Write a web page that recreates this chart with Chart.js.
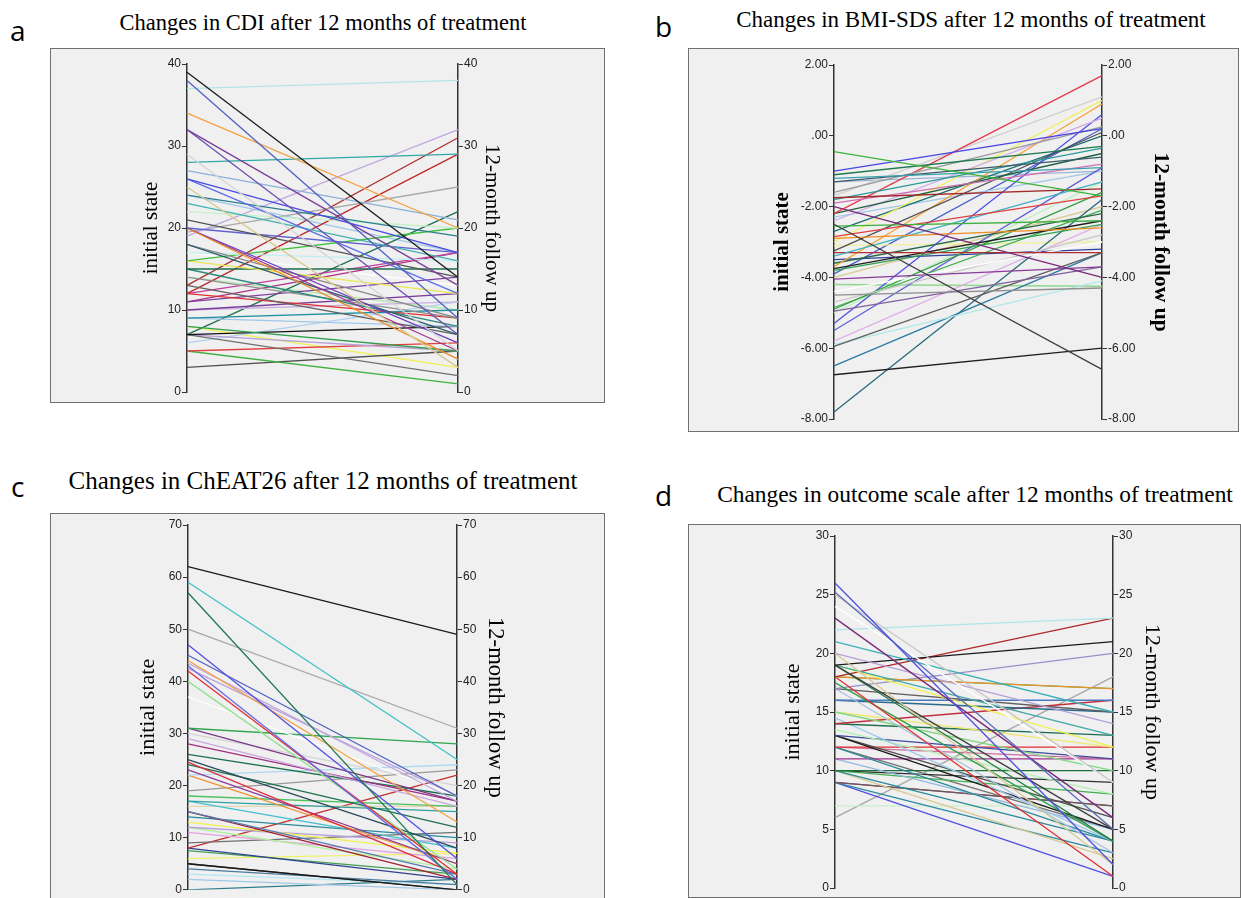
<!DOCTYPE html>
<html>
<head>
<meta charset="utf-8">
<script src="https://cdn.jsdelivr.net/npm/chart.js@4.4.0/dist/chart.umd.min.js"></script>
<style>
  body { margin: 0; width: 1241px; height: 898px; overflow: hidden; background: #fff; position: relative; }
  .letter { position: absolute; font-family: "Open Sans", sans-serif; font-size: 28px; color: #000; line-height: 1; }
  .title { position: absolute; font-family: "Liberation Serif", serif; color: #000; white-space: nowrap; transform: translateX(-50%); line-height: 1; }
  .frame { position: absolute; background: #f0f0f0; border: 1px solid #707070; box-sizing: border-box; }
  .frame canvas { position: absolute; left: 0; top: 0; }
</style>
</head>
<body>
<div class="letter" style="left:10px;top:16px">a</div>
<div class="letter" style="left:655px;top:12px">b</div>
<div class="letter" style="left:11px;top:472px">c</div>
<div class="letter" style="left:655px;top:481px">d</div>

<div class="title" style="left:323px;top:12px;font-size:22.5px">Changes in CDI after 12 months of treatment</div>
<div class="title" style="left:971px;top:8px;font-size:23px">Changes in BMI-SDS after 12 months of treatment</div>
<div class="title" style="left:323px;top:468px;font-size:25px">Changes in ChEAT26 after 12 months of treatment</div>
<div class="title" style="left:975px;top:483px;font-size:23.4px">Changes in outcome scale after 12 months of treatment</div>

<div class="frame" style="left:50px;top:48px;width:555px;height:355px"><canvas id="cdi" width="553" height="353"></canvas></div>
<div class="frame" style="left:688px;top:48px;width:551px;height:384px"><canvas id="bmi" width="549" height="382"></canvas></div>
<div class="frame" style="left:50px;top:513px;width:555px;height:400px"><canvas id="eat" width="553" height="384"></canvas></div>
<div class="frame" style="left:688px;top:524px;width:553px;height:374px"><canvas id="outcome" width="551" height="372"></canvas></div>

<script>
const timepoints = ["initial state", "12-month follow up"];

// a: CDI
const cdiInitial = [39, 38, 37, 34, 32, 32, 29, 28, 27, 26, 26, 25, 24, 23, 22, 21, 20, 20, 20, 20,
  19, 19.5, 18, 18, 17, 16, 16, 15, 15, 14, 13, 13, 12, 12, 12, 11, 11, 10, 10, 9,
  9, 8, 7, 7, 7, 7, 6, 5, 5, 3, 8, 17, 14, 24];
const cdiFollow = [14, 9, 38, 20, 13, 7, 5, 29, 21, 17, 12, 3, 19, 16, 20, 14, 17, 4, 6, 5,
  32, 25, 7, 9, 16, 20, 12, 15, 8, 9, 31, 7, 9, 29, 17, 14, 17, 12, 11, 10,
  8, 5, 8, 22, 2, 5, 11, 6, 1, 5, 3, 13, 10, 17];
const cdiColors = ["#1a1a1a", "#5060c0", "#b4e4e8", "#f5a040", "#7b3f9a", "#6a50b0", "#d4d4d4", "#30a8a8", "#8cb0d8", "#4a4ae0",
  "#5a6ee8", "#d8c890", "#2a7f8f", "#40b0b0", "#c8f0c8", "#555555", "#6060d0", "#f08c20", "#7040c0", "#a03090",
  "#c0a8e0", "#aaaaaa", "#2f5f6f", "#888888", "#c0eef0", "#40c040", "#e8e850", "#1e6e4e", "#2a8a7a", "#909090",
  "#b03030", "#606060", "#e03030", "#c02828", "#c040a0", "#8040a0", "#b03080", "#7a3a9a", "#c8b0e0", "#2090a0",
  "#a0c8e8", "#30a050", "#111111", "#207050", "#707070", "#b8a0d8", "#b0d0f0", "#e04040", "#40b040", "#505050",
  "#f0f050", "#ffffff", "#b0e8b0", "#9ec9ec"];

// b: BMI-SDS
const bmiInitial = [-0.45, -1.0, -1.1, -1.2, -1.3, -1.6, -1.75, -1.8, -1.9, -2.2, -2.0, -2.2, -2.4, -2.5, -2.55, -1.7, -2.9, -2.85, -3.0, -3.25,
  -3.4, -3.3, -3.7, -3.6, -3.8, -4.05, -3.75, -4.4, -4.5, -4.7, -4.9, -4.85, -4.95, -5.3, -5.5, -5.8, -5.95, -5.9, -6.5, -6.75,
  -7.8, -3.1, -2.7, -4.2, -3.5, -2.3, -4.0, -3.9, -5.0, -1.3];
const bmiFollow = [-1.7, 0.2, -0.3, -0.9, -0.6, 0.25, -1.5, -0.35, -0.8, 1.7, -4.0, -0.5, 0.5, -6.6, -2.4, 1.1, -2.6, -1.7, 1.0, 0.1,
  -1.3, -3.3, 0.9, -2.2, -2.5, -3.7, -2.4, -3.0, -4.3, -2.8, -1.6, -2.1, -3.7, 0.6, -0.9, -2.5, -3.3, -4.1, -3.3, -6.0,
  -1.8, -3.0, 0.0, -4.25, -3.2, -1.0, -2.0, 0.2, -1.3, -1.0];
const bmiColors = ["#3cb43c", "#4646e6", "#1e7a50", "#3aa0b0", "#3a5a6a", "#999999", "#a02828", "#2a9a9a", "#d070b0", "#e03c50",
  "#7a2a7a", "#206040", "#d0a8e8", "#404040", "#40b040", "#d0d0d0", "#f08c20", "#e04040", "#f0f060", "#505050",
  "#40b0c0", "#b03030", "#f5a030", "#2a6a4a", "#2ea050", "#8a3a9a", "#202020", "#ffffff", "#909090", "#c8c8c8",
  "#30a040", "#40b050", "#8060a0", "#5050e0", "#6060d8", "#e0b0e8", "#606060", "#b0e8e8", "#2a7aa0", "#202020",
  "#2a6a7a", "#f0f0a0", "#1f6f6f", "#90d890", "#3040a0", "#a0c8e8", "#d8c890", "#4a5ec9", "#c0f0c0", "#9ab4d8"];

// c: ChEAT26
const eatInitial = [62, 59, 57, 50, 47, 45, 44, 43.5, 43, 42.5, 42, 40, 37, 31, 31, 30, 29, 28, 26, 25,
  24.5, 24, 23, 22, 22, 19, 18, 17, 17, 16, 15, 15, 14, 13, 12, 12, 11, 9, 8, 8,
  7.5, 6, 5, 5, 4, 3, 2, 0];
const eatFollow = [49, 25, 1, 31, 6, 18, 13, 17, 2, 18, 3, 4, 18, 28, 17, 20, 16, 17, 18, 8,
  3, 12, 5, 24, 5, 23, 16, 15, 8, 16, 3, 2, 10, 7, 9, 4, 6, 11, 22, 2,
  3, 7, 0, 0, 1, 1, 0, 2];
const eatColors = ["#1a1a1a", "#40c0c8", "#207a50", "#a8a8a8", "#5050e0", "#5060c0", "#f5a040", "#c0a8e0", "#6a6ae8", "#b8a0d8",
  "#e03030", "#90e090", "#ffffff", "#30a850", "#7a3a8a", "#d4d4d4", "#c8a8e0", "#a03080", "#1e6e4e", "#2a4a5a",
  "#e03040", "#207050", "#8a3a9a", "#b0d8f0", "#f09030", "#999999", "#50c060", "#30a0a0", "#40c0d0", "#e0d8b0",
  "#5a7ab0", "#a02030", "#2a8a9a", "#f0f050", "#b8a0d8", "#b0f0a0", "#e0a0e0", "#707070", "#c03030", "#304090",
  "#40a050", "#f0f070", "#1a1a1a", "#505050", "#4a7aa0", "#b0e8f0", "#a0c8e8", "#2a7a8a"];

// d: outcome scale
const outInitial = [26, 25.2, 25, 24, 23, 22, 21, 20, 20, 19, 19, 19, 19, 19, 18, 18, 18, 18, 17.5, 17,
  17, 17, 16, 16, 15, 15, 14, 14, 14.5, 13.5, 13, 13, 13, 12, 12, 12, 11, 11, 10, 10,
  10, 10, 9, 9, 9, 9, 7, 6, 10, 12];
const outFollow = [2, 5, 9, 9, 6, 23, 15, 14, 2, 21, 5, 13, 12, 4, 23, 17, 17, 1, 4, 20,
  15, 3, 16, 15, 10, 12, 16, 13, 4, 8, 11, 5, 6, 12, 11, 4, 11, 5, 10, 8,
  4, 2.5, 7, 7, 3, 1, 7, 18, 9, 5];
const outColors = ["#5050e0", "#5a6ab8", "#c8c8c8", "#ffffff", "#7a2a7a", "#b0e4e8", "#40b0b8", "#b8a0d8", "#d8c890", "#1a1a1a",
  "#404040", "#40a8a8", "#f0f050", "#207a40", "#b02828", "#f09030", "#40b040", "#e03030", "#30a050", "#9a90c8",
  "#606060", "#a8c0e0", "#4a7ac0", "#2a6a8a", "#80d880", "#f0e870", "#c03040", "#1e6e4e", "#9ec9ec", "#b0f0b0",
  "#3a4aa0", "#1a1a1a", "#505050", "#e03030", "#d070a0", "#2a8a9a", "#a03090", "#90b8e0", "#1e6e3e", "#40b050",
  "#2a8a9a", "#d8c890", "#606060", "#c03060", "#2a8aa0", "#5050e0", "#c8f0c8", "#a8a8a8", "#303030", "#707070"];

function makePanel(id, initial, follow, colors, cfg) {
  const tickFont = { family: "Liberation Sans", size: 12 };
  const axis = (pos, width, titleText, titleSize, titlePad) => ({
    position: pos,
    display: true,
    min: cfg.min,
    max: cfg.max,
    ticks: { stepSize: cfg.step, color: "#222", font: tickFont, padding: 1, callback: cfg.fmt },
    grid: { drawOnChartArea: false, drawTicks: true, tickLength: 5, color: "#333", lineWidth: 1 },
    border: { display: true, color: "#333", width: 1.5 },
    title: {
      display: true, text: titleText, color: "#000",
      font: { family: "Liberation Serif", size: titleSize, weight: cfg.titleWeight || "normal" },
      padding: { top: titlePad, bottom: 0 }
    },
    afterFit: (scale) => { scale.width = width; }
  });
  new Chart(document.getElementById(id), {
    type: "line",
    data: {
      labels: timepoints,
      datasets: initial.map((v, i) => ({
        data: [v, follow[i]],
        borderColor: colors[i % colors.length],
        borderWidth: 1.3,
        pointRadius: 0,
        fill: false,
        tension: 0
      }))
    },
    options: {
      responsive: false,
      animation: false,
      layout: { padding: { top: cfg.top, bottom: cfg.bottom, left: 0, right: 0 } },
      plugins: { legend: { display: false }, tooltip: { enabled: false } },
      scales: {
        x: { display: false, offset: false },
        y: axis("left", cfg.leftW, timepoints[0], cfg.leftSize, cfg.leftPad),
        y2: axis("right", cfg.rightW, timepoints[1], cfg.rightSize, cfg.rightPad)
      }
    }
  });
}

const intFmt = (v) => String(v);
const decFmt = (v) => (v === 0 ? ".00" : v.toFixed(2));

makePanel("cdi", cdiInitial, cdiFollow, cdiColors,
  { min: 0, max: 40, step: 10, fmt: intFmt, top: 15, bottom: 10, leftW: 136, rightW: 146,
    leftSize: 21, rightSize: 21, leftPad: 88, rightPad: 100 });
makePanel("bmi", bmiInitial, bmiFollow, bmiColors,
  { min: -8, max: 2, step: 2, fmt: decFmt, top: 16, bottom: 12, leftW: 145, rightW: 136, titleWeight: "bold",
    leftSize: 21, rightSize: 21.5, leftPad: 81, rightPad: 65 });
makePanel("eat", eatInitial, eatFollow, eatColors,
  { min: 0, max: 70, step: 10, fmt: intFmt, top: 11, bottom: 7, leftW: 137, rightW: 147,
    leftSize: 22, rightSize: 22.6, leftPad: 84, rightPad: 96 });
makePanel("outcome", outInitial, outFollow, outColors,
  { min: 0, max: 30, step: 5, fmt: intFmt, top: 11, bottom: 9, leftW: 146, rightW: 127,
    leftSize: 22, rightSize: 22, leftPad: 91, rightPad: 75 });
</script>
</body>
</html>
